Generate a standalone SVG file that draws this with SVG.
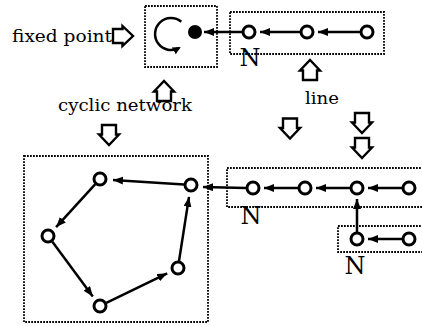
<svg xmlns="http://www.w3.org/2000/svg" xmlns:xlink="http://www.w3.org/1999/xlink" width="422" height="326" viewBox="0 0 422 326">
  <style>
    .frame { fill: none; stroke: #000; stroke-width: 1.8; stroke-dasharray: 1.8 1.2; }
    .node { fill: #fff; stroke: #000; stroke-width: 3; }
    .edge { fill: none; stroke: #000; stroke-width: 2.5; marker-end: url(#head); }
    .hollow { fill: #fff; stroke: #000; stroke-width: 2.4; stroke-linejoin: miter; }
    .label { font-family: "DejaVu Serif", "Liberation Serif", serif; font-size: 17px; fill: #000; }
    .tag { font-family: "DejaVu Serif", "Liberation Serif", serif; font-size: 24px; fill: #000; text-anchor: middle; }
  </style>
  <defs>
    <marker id="head" markerUnits="userSpaceOnUse" markerWidth="12" markerHeight="10" refX="10" refY="4" orient="auto">
      <path d="M0,0 L10,4 L0,8 Z" fill="#000"/>
    </marker>
    <marker id="smallhead" markerUnits="userSpaceOnUse" markerWidth="10" markerHeight="10" refX="6" refY="4" orient="auto">
      <path d="M0,0 L8,4 L0,8 Z" fill="#000"/>
    </marker>
    <!-- hollow block arrow pointing down, centred on the origin -->
    <path id="block" d="M-7,-10 H7 V-0.5 H10 L0,10 L-10,-0.5 H-7 Z"/>
  </defs>

  <!-- frames -->
  <g id="frames">
    <rect class="frame" x="145" y="6" width="72" height="61"/>
    <rect class="frame" x="230" y="12" width="154" height="42"/>
    <rect class="frame" x="24" y="156" width="184" height="166"/>
    <rect class="frame" x="227" y="168" width="210" height="39"/>
    <rect class="frame" x="338" y="226" width="100" height="26"/>
  </g>

  <!-- hollow pointer arrows -->
  <g id="pointers">
    <use xlink:href="#block" class="hollow" transform="translate(123,36) rotate(-90)"/>
    <use xlink:href="#block" class="hollow" transform="translate(164,91) rotate(180)"/>
    <use xlink:href="#block" class="hollow" transform="translate(310,70) rotate(180)"/>
    <use xlink:href="#block" class="hollow" transform="translate(109,135)"/>
    <use xlink:href="#block" class="hollow" transform="translate(290,128.5)"/>
    <use xlink:href="#block" class="hollow" transform="translate(362,123)"/>
    <use xlink:href="#block" class="hollow" transform="translate(362,148)"/>
  </g>

  <!-- connectors -->
  <g id="connectors">
    <!-- fixed point self loop -->
    <path d="M181.3,21.7 A16 16 0 1 0 179,47.9" fill="none" stroke="#000" stroke-width="2.5" marker-end="url(#smallhead)"/>
    <!-- upper line -->
    <line class="edge" x1="360" y1="32" x2="318" y2="32"/>
    <line class="edge" x1="300" y1="32" x2="260" y2="32"/>
    <line class="edge" x1="242" y1="32" x2="204" y2="32"/>
    <!-- lower line -->
    <line class="edge" x1="402" y1="188" x2="368" y2="188"/>
    <line class="edge" x1="350" y1="188" x2="316" y2="188"/>
    <line class="edge" x1="298" y1="188" x2="264" y2="188"/>
    <line class="edge" x1="246" y1="188" x2="203" y2="187"/>
    <!-- branch -->
    <line class="edge" x1="402" y1="239" x2="368" y2="239"/>
    <line class="edge" x1="357" y1="232" x2="357" y2="199"/>
    <!-- cycle -->
    <line class="edge" x1="184" y1="184.6" x2="113" y2="179.9"/>
    <line class="edge" x1="95.3" y1="184.2" x2="56.1" y2="227.1"/>
    <line class="edge" x1="52.2" y1="241.6" x2="92.8" y2="296.4"/>
    <line class="edge" x1="106.3" y1="302.9" x2="167.2" y2="273.3"/>
    <line class="edge" x1="179" y1="261" x2="189" y2="196.9"/>
  </g>

  <!-- nodes -->
  <g id="fixed-point-node"><circle cx="195" cy="32" r="7" fill="#000"/></g>
  <g id="line-top-1"><circle class="node" cx="249" cy="32" r="6"/></g>
  <g id="line-top-2"><circle class="node" cx="307" cy="32" r="6"/></g>
  <g id="line-top-3"><circle class="node" cx="367" cy="32" r="6"/></g>
  <g id="line-bottom-1"><circle class="node" cx="253" cy="188" r="6"/></g>
  <g id="line-bottom-2"><circle class="node" cx="305" cy="188" r="6"/></g>
  <g id="line-bottom-3"><circle class="node" cx="357" cy="188" r="6"/></g>
  <g id="line-bottom-4"><circle class="node" cx="409" cy="188" r="6"/></g>
  <g id="branch-1"><circle class="node" cx="357" cy="239" r="6"/></g>
  <g id="branch-2"><circle class="node" cx="409" cy="239" r="6"/></g>
  <g id="cycle-1"><circle class="node" cx="191" cy="185" r="6"/></g>
  <g id="cycle-2"><circle class="node" cx="100" cy="179" r="6"/></g>
  <g id="cycle-3"><circle class="node" cx="48" cy="236" r="6"/></g>
  <g id="cycle-4"><circle class="node" cx="100" cy="306" r="6"/></g>
  <g id="cycle-5"><circle class="node" cx="178" cy="268" r="6"/></g>

  <!-- labels -->
  <g id="labels">
    <text class="label" x="12" y="42" textLength="100" lengthAdjust="spacingAndGlyphs">fixed point</text>
    <text class="label" x="58" y="111" textLength="134" lengthAdjust="spacingAndGlyphs">cyclic network</text>
    <text class="label" x="305" y="104" textLength="34" lengthAdjust="spacingAndGlyphs">line</text>
    <text class="tag" x="250" y="66">N</text>
    <text class="tag" x="251" y="224">N</text>
    <text class="tag" x="355" y="274">N</text>
  </g>
</svg>
